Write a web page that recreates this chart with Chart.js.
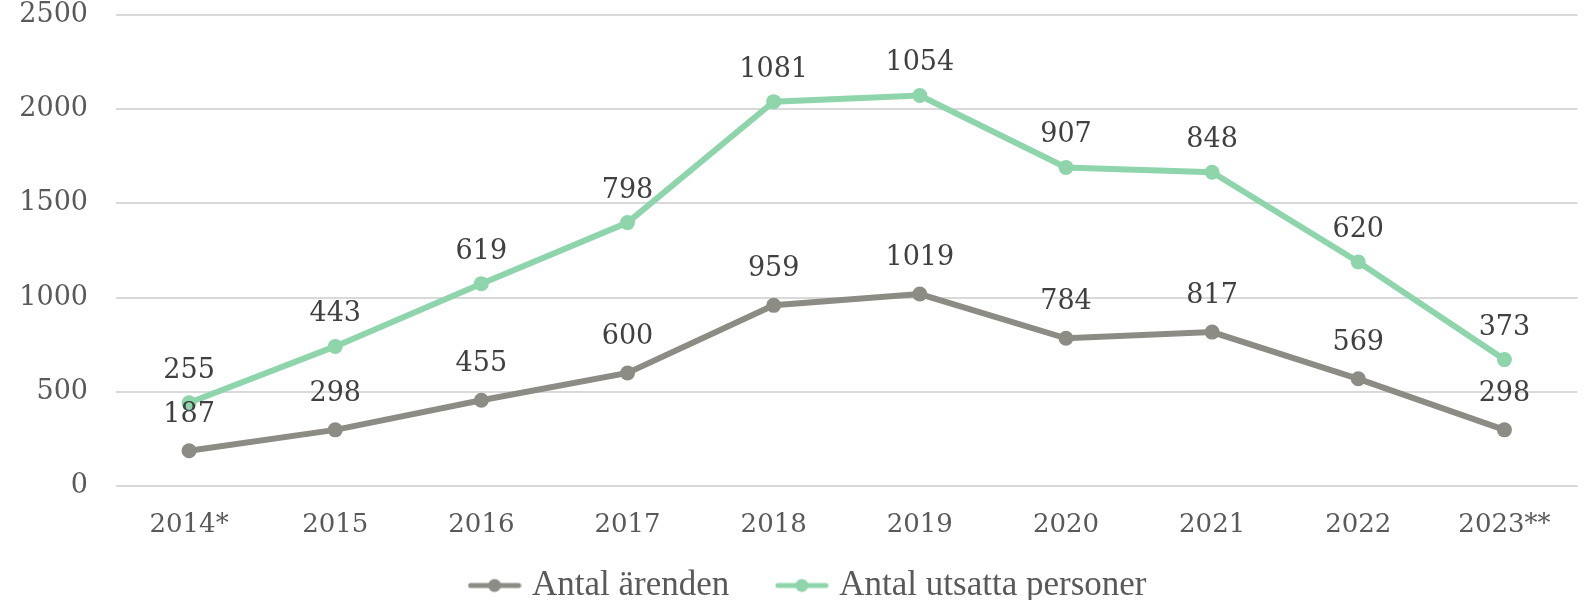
<!DOCTYPE html>
<html>
<head>
<meta charset="utf-8">
<script src="https://cdn.jsdelivr.net/npm/chart.js@4"></script>
<style>
  html, body { margin: 0; padding: 0; background: #fff; }
  #wrap { width: 1585px; height: 600px; }
</style>
</head>
<body>
<div id="wrap"><canvas id="chart"></canvas></div>
<script>
// Data
const years = ['2014*', '2015', '2016', '2017', '2018', '2019', '2020', '2021', '2022', '2023**'];
const antalArenden = [187, 298, 455, 600, 959, 1019, 784, 817, 569, 298];
const antalUtsatta = [255, 443, 619, 798, 1081, 1054, 907, 848, 620, 373];
const yTicks = [0, 500, 1000, 1500, 2000, 2500];

const GRAY = '#8c8c85';
const GREEN = '#8fd5ab';
const FONT = '"DejaVu Serif", "Liberation Serif", serif';
const LEGEND_FONT = '"Liberation Serif", serif';

// legend marker: short line with a dot
function legendMarker(color) {
  const c = document.createElement('canvas');
  c.width = 54; c.height = 16;
  const g = c.getContext('2d');
  g.strokeStyle = color;
  g.lineWidth = 5;
  g.lineCap = 'round';
  g.beginPath();
  g.moveTo(3, 8);
  g.lineTo(51, 8);
  g.stroke();
  g.fillStyle = color;
  g.beginPath();
  g.arc(27, 8, 6.5, 0, Math.PI * 2);
  g.fill();
  return c;
}

// Value labels above each point (gray ones sit a bit higher)
const labelOffsets = [36, 32];
const valueLabels = {
  id: 'valueLabels',
  afterDatasetsDraw(chart) {
    const ctx = chart.ctx;
    ctx.save();
    ctx.font = '27px ' + FONT;
    ctx.fillStyle = '#404040';
    ctx.textAlign = 'center';
    ctx.textBaseline = 'middle';
    chart.data.datasets.forEach((ds, i) => {
      const meta = chart.getDatasetMeta(i);
      meta.data.forEach((pt, j) => {
        ctx.fillText(String(ds.data[j]), pt.x, pt.y - labelOffsets[i]);
      });
    });
    ctx.restore();
  }
};

// legend sits a little right of centre in the original
const legendShift = {
  id: 'legendShift',
  afterLayout(chart) {
    if (chart.legend) {
      chart.legend.left += 18;
      chart.legend.right += 18;
    }
  }
};

new Chart(document.getElementById('chart'), {
  type: 'line',
  data: {
    labels: years,
    datasets: [{
      label: 'Antal ärenden',
      data: antalArenden,
      borderColor: GRAY,
      backgroundColor: GRAY,
      borderWidth: 6,
      pointRadius: 7.5,
      pointBackgroundColor: GRAY,
      pointBorderWidth: 0,
      pointStyle: 'circle',
      fill: false,
      tension: 0
    }, {
      label: 'Antal utsatta personer',
      data: antalUtsatta,
      borderColor: GREEN,
      backgroundColor: GREEN,
      borderWidth: 6,
      pointRadius: 7.5,
      pointBackgroundColor: GREEN,
      pointBorderWidth: 0,
      pointStyle: 'circle',
      fill: false,
      tension: 0
    }]
  },
  options: {
    responsive: true,
    maintainAspectRatio: false,
    animation: false,
    layout: { padding: { top: 0, right: 0, left: 0, bottom: -13 } },
    plugins: {
      legend: {
        position: 'bottom',
        labels: {
          usePointStyle: true,
          pointStyleWidth: 40,
          font: { family: LEGEND_FONT, size: 35 },
          color: '#595959',
          padding: 0,
          generateLabels(chart) {
            const n = chart.data.datasets.length;
            return chart.data.datasets.map((ds, i) => ({
              // trailing spaces give the gap between the two items
              text: i < n - 1 ? ds.label + '\u00a0\u00a0\u00a0\u00a0\u00a0\u00a0' : ds.label,
              fillStyle: ds.borderColor,
              strokeStyle: ds.borderColor,
              fontColor: '#595959',
              pointStyle: legendMarker(ds.borderColor),
              datasetIndex: i,
              hidden: false
            }));
          }
        }
      },
      tooltip: { enabled: false }
    },
    scales: {
      x: {
        offset: true,
        grid: { display: false },
        border: { display: false },
        ticks: {
          font: { family: FONT, size: 26 },
          color: '#595959',
          padding: 16,
          maxRotation: 0
        },
        afterFit(scale) {
          scale.height = 82;
          scale.paddingLeft = 0;
          scale.paddingRight = 0;
        }
      },
      y: {
        stacked: true,
        min: 0,
        max: 2500,
        grid: { color: '#d9d9d9', lineWidth: 2, drawTicks: false },
        border: { display: false },
        afterBuildTicks(scale) { scale.ticks = yTicks.map(v => ({ value: v })); },
        ticks: {
          font: { family: FONT, size: 27 },
          color: '#595959',
          padding: 28,
          callback: (v) => String(v)
        },
        afterFit(scale) {
          scale.width = 116;
          scale.paddingTop = 15;
          scale.paddingBottom = 0;
        }
      }
    }
  },
  plugins: [valueLabels, legendShift]
});
</script>
</body>
</html>
